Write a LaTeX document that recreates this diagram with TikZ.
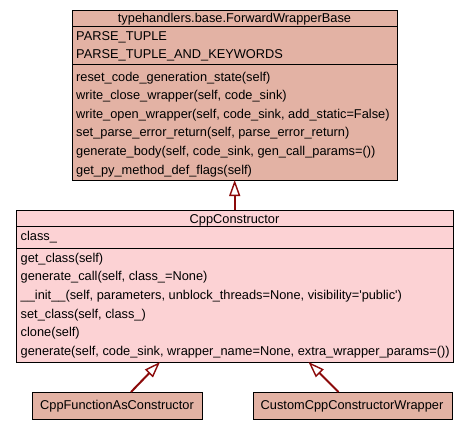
\documentclass[tikz,border=0pt]{standalone}
\usepackage{fontspec}
\setmainfont{Liberation Sans}
\usetikzlibrary{arrows.meta}
\definecolor{basefill}{RGB}{227,178,164}
\definecolor{ctorfill}{RGB}{252,210,212}
\definecolor{inhline}{RGB}{140,10,10}
\begin{document}
\begin{tikzpicture}[x=1pt,y=-1pt,
  umlbox/.style={draw=black, line width=1pt, inner sep=0pt, anchor=north west},
  member/.style={anchor=base west, inner sep=0pt, font=\fontsize{12.8}{14}\selectfont},
  title/.style={anchor=base, inner sep=0pt, font=\fontsize{12.8}{14}\selectfont},
  sep/.style={draw=black, line width=1pt},
  inh/.style={draw=inhline, line width=2pt,
    -{Triangle[open, length=16pt, width=11pt, line width=1.4pt, fill=white]}}]
  % page
  \useasboundingbox[fill=white] (0,0) rectangle (469,429);

  % base class
  \node (base) [umlbox, fill=basefill, minimum width=325pt, minimum height=170pt] at (72,10) {};
  \draw[sep] (72,26) -- (397,26);
  \draw[sep] (72,64) -- (397,64);
  \node (base-t) [title] at (234.5,22.8) {typehandlers.base.ForwardWrapperBase};
  \node (base-a1) [member] at (76,40) {PARSE\_TUPLE};
  \node (base-a2) [member] at (76,58.4) {PARSE\_TUPLE\_AND\_KEYWORDS};
  \foreach \txt [count=\i] in {
      reset\_code\_generation\_state(self),
      write\_close\_wrapper(self{,} code\_sink),
      write\_open\_wrapper(self{,} code\_sink{,} add\_static=False),
      set\_parse\_error\_return(self{,} parse\_error\_return),
      generate\_body(self{,} code\_sink{,} gen\_call\_params=()),
      get\_py\_method\_def\_flags(self)}
    \node (base-m\i) [member] at (76,{81+18.6*(\i-1)}) {\txt};

  % CppConstructor
  \node (ctor) [umlbox, fill=ctorfill, minimum width=437pt, minimum height=152pt] at (16,210) {};
  \draw[sep] (16,226) -- (453,226);
  \draw[sep] (16,248) -- (453,248);
  \node (ctor-t) [title] at (234.5,223) {CppConstructor};
  \node (ctor-a1) [member] at (20.5,240.6) {class\_};
  \foreach \txt [count=\i] in {
      get\_class(self),
      generate\_call(self{,} class\_=None),
      \_\_init\_\_(self{,} parameters{,} unblock\_threads=None{,} visibility=\textquotesingle public\textquotesingle),
      set\_class(self{,} class\_),
      clone(self),
      generate(self{,} code\_sink{,} wrapper\_name=None{,} extra\_wrapper\_params=())}
    \node (ctor-m\i) [member] at (20.5,{262+18.7*(\i-1)}) {\txt};

  % subclasses
  \node (cfa) [umlbox, fill=basefill, minimum width=170pt, minimum height=26.5pt] at (32,392) {};
  \node (cfa-t) [title] at (117,409.5) {CppFunctionAsConstructor};
  \node (ccw) [umlbox, fill=basefill, minimum width=198.5pt, minimum height=26.5pt] at (253,392) {};
  \node (ccw-t) [title] at (352,409.5) {CustomCppConstructorWrapper};

  % inheritance
  \coordinate (base-in) at (234.7,180);
  \coordinate (ctor-out) at (234.7,210);
  \coordinate (ctor-in1) at (160,362);
  \coordinate (ctor-in2) at (308.5,362);
  \coordinate (cfa-out) at (131,392);
  \coordinate (ccw-out) at (338.5,392);
  \draw[inh] (ctor-out) -- (base-in);
  \draw[inh] (cfa-out) -- (ctor-in1);
  \draw[inh] (ccw-out) -- (ctor-in2);
\end{tikzpicture}
\end{document}
